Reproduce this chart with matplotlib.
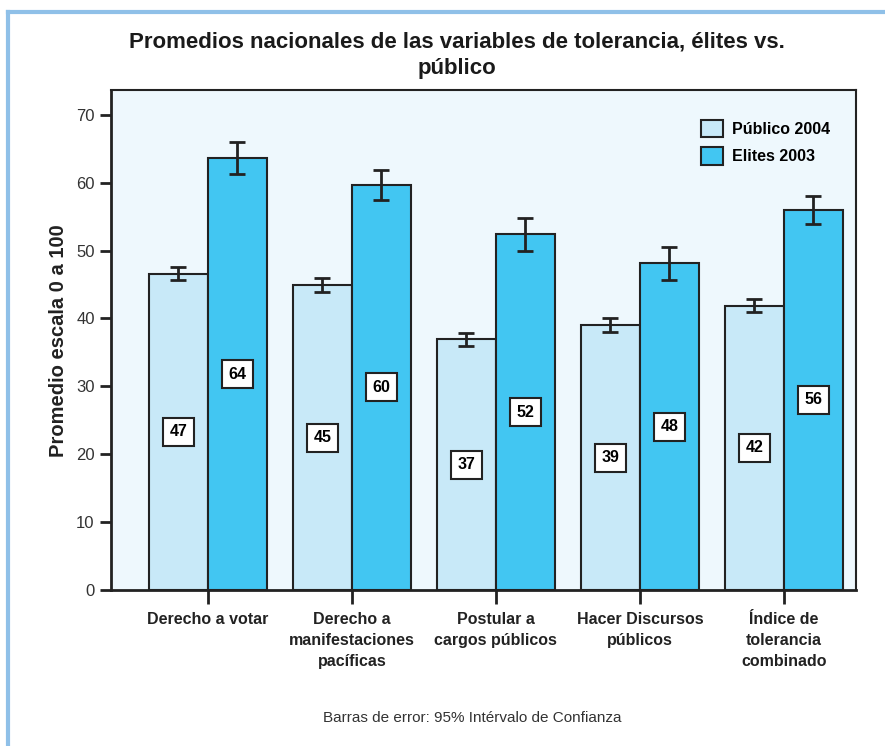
import numpy as np
import matplotlib.pyplot as plt
from matplotlib.lines import Line2D

plt.rcParams['font.family'] = ['Liberation Sans', 'DejaVu Sans']

categories = ["Derecho a votar", "Derecho a\nmanifestaciones\npacíficas",
              "Postular a\ncargos públicos", "Hacer Discursos\npúblicos",
              "Índice de\ntolerancia\ncombinado"]
publico = [46.6, 44.9, 36.9, 39.0, 41.9]
elites = [63.6, 59.7, 52.4, 48.1, 56.0]
publico_err = [1.0, 1.0, 1.0, 1.0, 1.0]
elites_err = [2.35, 2.2, 2.4, 2.4, 2.1]
publico_lbl = ["47", "45", "37", "39", "42"]
elites_lbl = ["64", "60", "52", "48", "56"]
series_names = ["Público 2004", "Elites 2003"]

c_pub = "#C8E9F8"
c_eli = "#42C6F2"
edge = "#222222"

fig = plt.figure(figsize=(8.85, 7.46), dpi=100)
ax = fig.add_axes([0.125, 0.209, 0.842, 0.670])
ax.set_facecolor("#EEF8FD")

x = np.arange(len(categories))
w = 0.41
ax.bar(x - w / 2, publico, w, color=c_pub, edgecolor=edge, linewidth=1.5,
       label=series_names[0], zorder=2)
ax.bar(x + w / 2, elites, w, color=c_eli, edgecolor=edge, linewidth=1.5,
       label=series_names[1], zorder=2)
ax.errorbar(x - w / 2, publico, yerr=publico_err, fmt="none", ecolor=edge,
            elinewidth=2, capsize=5.5, capthick=2, zorder=3)
ax.errorbar(x + w / 2, elites, yerr=elites_err, fmt="none", ecolor=edge,
            elinewidth=2, capsize=5.5, capthick=2, zorder=3)

box = dict(boxstyle="square,pad=0.4", fc="white", ec=edge, lw=1.5)
for xi, v, t in zip(x - w / 2, publico, publico_lbl):
    ax.text(xi, v / 2, t, ha="center", va="center", fontsize=11.5,
            fontweight="bold", bbox=box, zorder=4)
for xi, v, t in zip(x + w / 2, elites, elites_lbl):
    ax.text(xi, v / 2, t, ha="center", va="center", fontsize=11.5,
            fontweight="bold", bbox=box, zorder=4)

ax.set_xlim(-0.676, 4.5)
ax.set_ylim(0, 73.6)
ax.set_yticks(range(0, 71, 10))
ax.set_xticks(x)
ax.set_xticklabels(categories, fontsize=11.5, fontweight="bold",
                   color="#222222", linespacing=1.5)
ax.tick_params(axis="y", labelsize=12, length=8, width=2, color=edge,
               labelcolor="#333333")
ax.tick_params(axis="x", length=10, width=2, color=edge, pad=6)
for s in ax.spines.values():
    s.set_linewidth(1.5)
    s.set_color(edge)
ax.spines["left"].set_linewidth(2)
ax.spines["bottom"].set_linewidth(2)
ax.set_ylabel("Promedio escala 0 a 100", fontsize=14.5, fontweight="bold",
              color="#222222", labelpad=6)

leg = ax.legend(loc="upper right", bbox_to_anchor=(0.985, 0.97), frameon=False,
                prop={"weight": "bold", "size": 11.5}, handlelength=1.4,
                handleheight=1.3, labelspacing=0.65, handletextpad=0.55)

fig.text(0.516, 0.926, "Promedios nacionales de las variables de tolerancia, élites vs.\npúblico",
         ha="center", va="center", fontsize=16, fontweight="bold",
         color="#1a1a1a", linespacing=1.35)
fig.text(0.534, 0.038, "Barras de error: 95% Intérvalo de Confianza",
         ha="center", va="center", fontsize=11, color="#333333")

# light blue frame on the left and top
fig.add_artist(Line2D([0.009, 0.009], [0, 0.984], transform=fig.transFigure,
                      color="#8FC0E8", lw=3))
fig.add_artist(Line2D([0.009, 1.0], [0.984, 0.984], transform=fig.transFigure,
                      color="#8FC0E8", lw=3))

fig.savefig("out.png", dpi=100)
